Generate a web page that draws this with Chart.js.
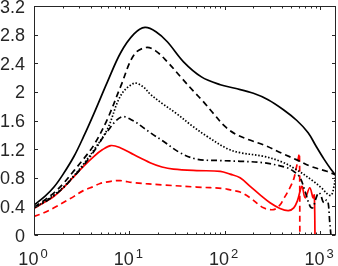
<!DOCTYPE html>
<html>
<head>
<meta charset="utf-8">
<script src="https://cdn.jsdelivr.net/npm/chart.js@4/dist/chart.umd.min.js"></script>
<style>
html,body{margin:0;padding:0;background:#fff;}
#wrap{width:338px;height:266px;position:relative;}
</style>
</head>
<body>
<div id="wrap"><canvas id="c" width="338" height="266"></canvas></div>
<script>
// ---- data ----
const xTickValues = [1, 10, 100, 1000];
const xTickBase = ['10', '10', '10', '10'];
const xTickExp = ['0', '1', '2', '3'];
const yTickValues = [0, 0.4, 0.8, 1.2, 1.6, 2, 2.4, 2.8, 3.2];
const yTickLabels = ['0', '0.4', '0.8', '1.2', '1.6', '2', '2.4', '2.8', '3.2'];

const blackSolidX = [1, 1.3, 1.62, 2, 2.63, 3.3, 4.26, 5.89, 8.13, 11.2, 14.6, 19, 25, 37, 57, 90, 128, 200, 285, 413, 571, 750, 900, 1100, 1300, 1470];
const blackSolidY = [0.42, 0.54, 0.67, 0.84, 1.10, 1.37, 1.70, 2.14, 2.55, 2.81, 2.90, 2.84, 2.70, 2.42, 2.21, 2.10, 2.05, 1.98, 1.89, 1.75, 1.60, 1.43, 1.25, 1.06, 0.92, 0.83];

const blackDashX = [1, 1.3, 1.62, 2, 2.63, 3.3, 4.26, 5.89, 8.13, 11.2, 15, 19, 25, 35, 47, 60, 76, 100, 130, 180, 255, 400, 571, 800, 1175, 1470];
const blackDashY = [0.39, 0.49, 0.59, 0.71, 0.90, 1.06, 1.26, 1.62, 2.08, 2.52, 2.62, 2.57, 2.42, 2.20, 2.01, 1.86, 1.70, 1.52, 1.41, 1.33, 1.26, 1.14, 1.05, 0.96, 0.89, 0.84];

const blackDotX = [1, 1.3, 1.62, 2, 2.63, 3.3, 4.26, 5.89, 8.13, 11.2, 14, 16.5, 22, 31, 45, 65, 105, 145, 255, 400, 571, 853, 1050, 1225, 1320, 1400, 1470];
const blackDotY = [0.38, 0.47, 0.56, 0.66, 0.83, 0.99, 1.19, 1.48, 1.95, 2.12, 2.07, 1.97, 1.84, 1.70, 1.53, 1.38, 1.21, 1.15, 1.10, 1.02, 0.91, 0.75, 0.65, 0.56, 0.56, 0.68, 0.84];

const blackDashDotX = [1, 1.3, 1.62, 2, 2.63, 3.3, 4.26, 5.89, 8.3, 11.2, 14, 17, 22.7, 34, 51, 90, 145, 255, 449, 540, 618, 700, 787, 840, 900, 962, 1010, 1070, 1120, 1170, 1220, 1260, 1300];
const blackDashDotY = [0.38, 0.46, 0.55, 0.65, 0.82, 0.97, 1.17, 1.45, 1.65, 1.59, 1.50, 1.42, 1.31, 1.15, 1.06, 1.04, 1.03, 1.01, 0.94, 0.88, 0.80, 0.60, 0.40, 0.38, 0.50, 0.59, 0.57, 0.47, 0.45, 0.49, 0.44, 0.20, 0];

const redSolidX = [1, 1.3, 1.62, 2, 2.63, 3.3, 4.26, 5.2, 6.4, 8, 11.2, 16.5, 22, 29, 51, 90, 114, 145, 185, 240, 299, 380, 466, 530, 580, 645, 698, 780, 845, 870, 885];
const redSolidY = [0.37, 0.46, 0.54, 0.65, 0.82, 0.96, 1.10, 1.19, 1.25, 1.22, 1.12, 1.01, 0.95, 0.92, 0.90, 0.89, 0.85, 0.80, 0.68, 0.55, 0.45, 0.37, 0.34, 0.38, 0.48, 0.68, 0.52, 0.66, 0.52, 0.56, 0];

const redDashX = [1, 1.27, 1.62, 2.2, 2.63, 3.29, 4.26, 4.93, 6.4, 8, 11.2, 22.7, 51, 97, 114, 145, 185, 255, 324, 380, 413, 470, 526, 560, 593, 608, 614];
const redDashY = [0.26, 0.31, 0.38, 0.48, 0.54, 0.62, 0.68, 0.72, 0.75, 0.76, 0.73, 0.70, 0.67, 0.65, 0.63, 0.60, 0.52, 0.38, 0.355, 0.42, 0.50, 0.63, 0.77, 0.92, 1.08, 1.14, 0];

const X_MIN = 1, X_MAX = 1470, Y_MIN = 0, Y_MAX = 3.2;

function pts(xs, ys){ return xs.map((x,i)=>({x:x, y:ys[i]})); }
function ds(xs, ys, color, dash){
  return {data: pts(xs, ys), borderColor: color, borderWidth: 1.7, borderDash: dash,
          pointRadius: 0, fill: false, tension: 0.35, cubicInterpolationMode: 'default'};
}

const FONT = "'Liberation Sans', Arial, sans-serif";
const AXC = '#262626';

const axesPlugin = {
  id: 'matlabAxes',
  afterDraw(chart){
    const ctx = chart.ctx, a = chart.chartArea;
    const xs = chart.scales.x, ys = chart.scales.y;
    ctx.save();
    ctx.strokeStyle = AXC; ctx.lineWidth = 1;
    const L = Math.round(a.left)+0.5, R = Math.round(a.right)-0.5, T = Math.round(a.top)+0.5, B = Math.round(a.bottom)-0.5;
    ctx.strokeRect(L, T, R-L, B-T);
    ctx.beginPath();
    for (let d = 1; d <= 1000; d *= 10){
      for (let m = 1; m <= 9; m++){
        const v = d*m;
        if (v < X_MIN || v > X_MAX) continue;
        const px = Math.round(xs.getPixelForValue(v))+0.5;
        const len = (m === 1) ? 3.5 : 2;
        ctx.moveTo(px, B); ctx.lineTo(px, B-len);
        ctx.moveTo(px, T); ctx.lineTo(px, T+len);
      }
    }
    yTickValues.forEach(v=>{
      const py = Math.round(ys.getPixelForValue(v))+0.5;
      ctx.moveTo(L, py); ctx.lineTo(L+3.5, py);
      ctx.moveTo(R, py); ctx.lineTo(R-3.5, py);
    });
    ctx.stroke();
    ctx.fillStyle = AXC;
    ctx.font = '18px ' + FONT;
    ctx.textAlign = 'right'; ctx.textBaseline = 'alphabetic';
    yTickValues.forEach((v,i)=>{
      const py = ys.getPixelForValue(v);
      ctx.fillText(yTickLabels[i], 25, py + 6.5);
    });
    ctx.textAlign = 'left';
    xTickValues.forEach((v,i)=>{
      const px = xs.getPixelForValue(v);
      ctx.font = '18px ' + FONT;
      const wb = ctx.measureText(xTickBase[i]).width;
      ctx.font = '13px ' + FONT;
      const we = ctx.measureText(xTickExp[i]).width;
      const total = wb + 2 + we;
      const x0 = px - total/2 - 1;
      ctx.font = '18px ' + FONT;
      ctx.fillText(xTickBase[i], x0, 265);
      ctx.font = '13px ' + FONT;
      ctx.fillText(xTickExp[i], x0 + wb + 2, 257.5);
    });
    ctx.restore();
  }
};

new Chart(document.getElementById('c'), {
  type: 'line',
  data: {
    datasets: [
      ds(blackSolidX, blackSolidY, '#000000', []),
      ds(blackDashX, blackDashY, '#000000', [6,4]),
      ds(blackDotX, blackDotY, '#000000', [1.5,1.8]),
      ds(blackDashDotX, blackDashDotY, '#000000', [6,3,1.5,3]),
      ds(redSolidX, redSolidY, '#ff0000', []),
      ds(redDashX, redDashY, '#ff0000', [6,4])
    ]
  },
  options: {
    responsive: false,
    animation: false,
    devicePixelRatio: 1,
    layout: {padding: {left: 34, top: 6, right: 2, bottom: 31}},
    plugins: {legend: {display: false}, tooltip: {enabled: false}},
    scales: {
      x: {type: 'logarithmic', min: X_MIN, max: X_MAX, display: false},
      y: {type: 'linear', min: Y_MIN, max: Y_MAX, display: false}
    }
  },
  plugins: [axesPlugin]
});
</script>
</body>
</html>
